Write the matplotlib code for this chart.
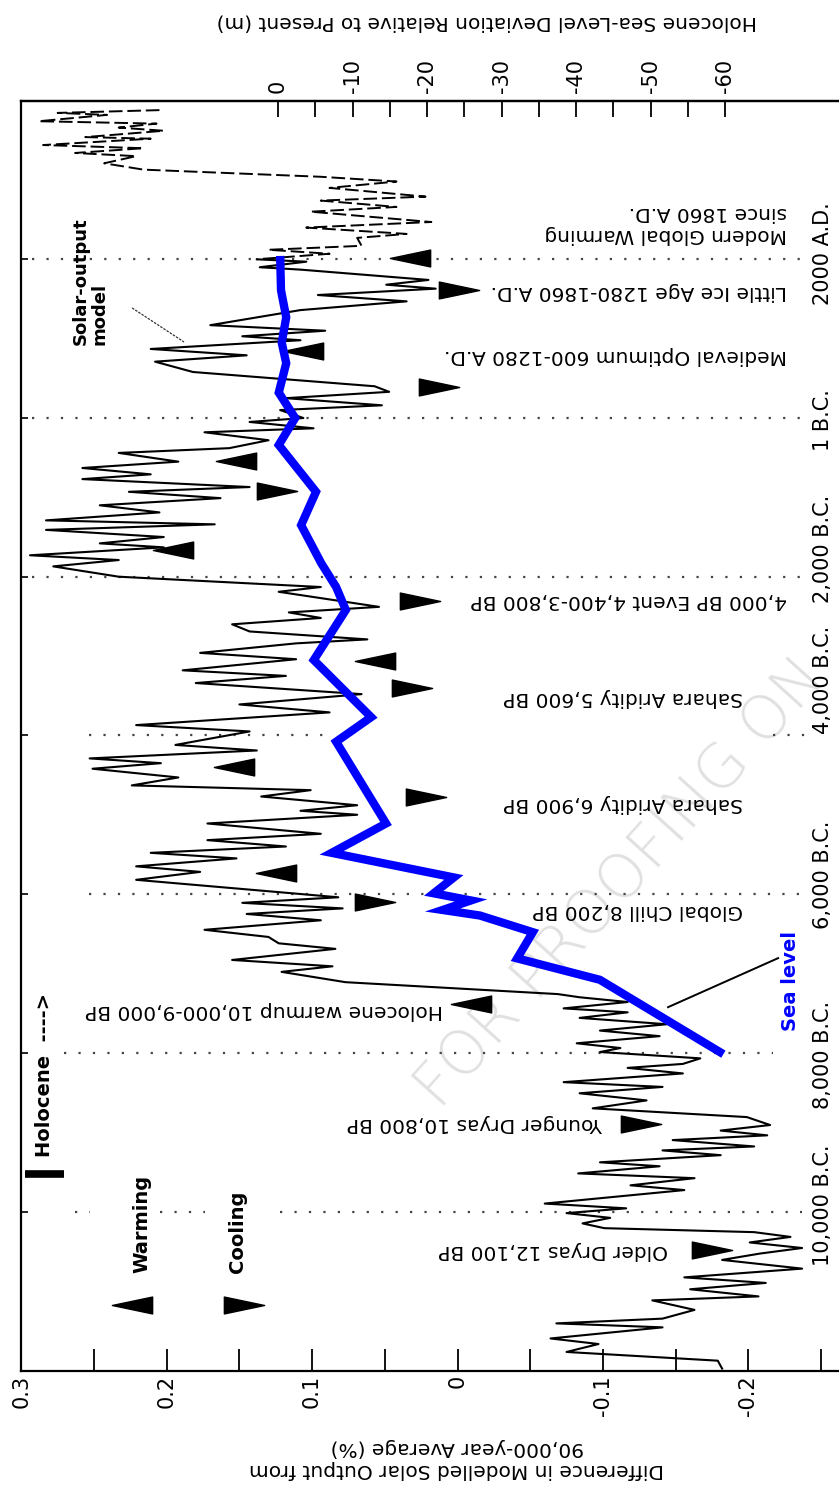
import matplotlib
matplotlib.use("Agg")
import matplotlib.pyplot as plt
from matplotlib.path import Path

plt.rcParams['font.family'] = 'DejaVu Sans'
plt.rcParams['axes.unicode_minus'] = False

# --- solar-output model, projected part (dashed) : year (AD +, BC -), % difference
proj_years = [3880, 3845, 3820, 3740, 3710, 3660, 3620, 3540, 3520, 3440,
              3400, 3340, 3300, 3210, 3130, 3040, 2980, 2900, 2790, 2740,
              2660, 2600, 2470, 2400, 2320, 2270, 2170, 2120, 2070, 2000]
proj_solar = [0.205, 0.275, 0.241, 0.288, 0.207, 0.233, 0.202, 0.256, 0.211, 0.285,
              0.216, 0.263, 0.221, 0.243, 0.216, 0.094, 0.042, 0.088, 0.022, 0.094,
              0.042, 0.101, 0.018, 0.104, 0.035, 0.069, 0.066, 0.130, 0.088, 0.138]

# --- solar-output model, past part
solar_years = [1970, 1900, 1870, 1740, 1680, 1630, 1550, 1470, 1360, 1170,
               1100, 1030, 980, 870, 790, 710, 580, 400, 330, 250,
               160, 100, 0, -50, -130, -180, -280, -380, -440, -550,
               -630, -710, -770, -870, -930, -1010, -1100, -1190, -1290, -1340,
               -1410, -1500, -1580, -1630, -1730, -1790, -1870, -2000, -2130, -2190,
               -2380, -2450, -2520, -2600, -2690, -2790, -2840, -2960, -3040, -3180,
               -3250, -3340, -3480, -3610, -3710, -3870, -3950, -4120, -4190, -4290,
               -4350, -4420, -4530, -4630, -4690, -4770, -4880, -4950, -5000, -5110,
               -5240, -5320, -5400, -5480, -5550, -5650, -5720, -5820, -6040, -6110,
               -6180, -6250, -6330, -6450, -6540, -6620, -6690, -6830, -6910, -6980,
               -7110, -7260, -7300, -7360, -7440, -7490, -7560, -7640, -7720, -7790,
               -7880, -7940, -7990, -8070, -8140, -8190, -8260, -8370, -8430, -8510,
               -8600, -8700, -8810, -8910, -8980, -9040, -9100, -9180, -9230, -9290,
               -9380, -9430, -9520, -9580, -9670, -9730, -9900, -9960, -10020, -10080,
               -10150, -10210, -10260, -10320, -10390, -10460, -10530, -10610, -10720, -10830,
               -10900, -10980, -11070, -11120, -11240, -11350, -11410, -11460, -11600, -11670,
               -11770, -11880, -11980]
solar_vals = [0.104, 0.136, 0.108, 0.020, 0.049, 0.015, 0.096, 0.035, 0.108, 0.170,
              0.091, 0.148, 0.108, 0.211, 0.145, 0.208, 0.182, 0.057, 0.047, 0.118,
              0.052, 0.122, 0.106, 0.143, 0.099, 0.174, 0.130, 0.157, 0.233, 0.192,
              0.258, 0.211, 0.258, 0.143, 0.226, 0.163, 0.246, 0.205, 0.283, 0.167,
              0.283, 0.202, 0.246, 0.202, 0.294, 0.233, 0.278, 0.233, 0.094, 0.123,
              0.054, 0.116, 0.094, 0.155, 0.143, 0.062, 0.111, 0.177, 0.111, 0.189,
              0.118, 0.180, 0.066, 0.150, 0.088, 0.221, 0.143, 0.194, 0.138, 0.253,
              0.204, 0.251, 0.192, 0.224, 0.101, 0.135, 0.069, 0.108, 0.069, 0.172,
              0.094, 0.172, 0.118, 0.211, 0.152, 0.221, 0.177, 0.221, 0.082, 0.148,
              0.079, 0.145, 0.094, 0.174, 0.130, 0.123, 0.084, 0.155, 0.086, 0.121,
              0.077, -0.069, -0.084, -0.117, -0.073, -0.117, -0.084, -0.144, -0.098, -0.139,
              -0.082, -0.112, -0.098, -0.167, -0.155, -0.117, -0.155, -0.073, -0.141, -0.084,
              -0.130, -0.093, -0.199, -0.215, -0.181, -0.213, -0.148, -0.204, -0.141, -0.181,
              -0.098, -0.139, -0.083, -0.163, -0.119, -0.156, -0.060, -0.116, -0.075, -0.105,
              -0.086, -0.101, -0.204, -0.229, -0.201, -0.237, -0.208, -0.182, -0.237, -0.156,
              -0.212, -0.160, -0.207, -0.134, -0.163, -0.141, -0.068, -0.141, -0.064, -0.097,
              -0.075, -0.179, -0.182]

# --- Holocene sea level (m relative to present)
sea_years = [1990, 1610, 1270, 950, 690, 320, 0, -340, -930, -1350,
             -1830, -2130, -2420, -3050, -3770, -4080, -5110, -5480, -5790, -5990,
             -6080, -6200, -6270, -6480, -6810, -7080, -7990]
sea_level = [-0.3, -0.4, -1.1, -0.5, -1.1, -0.1, -2.3, -0.1, -5.1, -3.1,
             -5.8, -7.8, -9.1, -4.8, -12.5, -7.8, -14.5, -7.2, -23.6, -20.9,
             -25.9, -22.1, -27.1, -34.2, -32.1, -43.2, -59.3]

# --- warming / cooling event arrows
warm_years = [2020, 845, -542, -1664, -3063, -4400, -5736, -7387]
warm_solar = [0.033, 0.106, 0.152, 0.196, 0.057, 0.154, 0.125, -0.009]
cool_years = [1614, 391, -920, -2307, -3404, -4778, -6101, -8900, -10488]
cool_solar = [-0.001, 0.013, 0.124, 0.026, 0.031, 0.022, 0.057, -0.126, -0.175]

event_labels = ["Modern Global Warming\nsince 1860 A.D.", "Little Ice Age 1280-1860 A.D.",
                "Medieval Optimum 600-1280 A.D.", "4,000 BP Event 4,400-3,800 BP",
                "Sahara Aridity 5,600 BP", "Sahara Aridity 6,900 BP", "Global Chill 8,200 BP",
                "Holocene warmup 10,000-9,000 BP", "Younger Dryas 10,800 BP", "Older Dryas 12,100 BP"]
event_years = [2446, 1588, 794, -2294, -3517, -4853, -6202, -7463, -8887, -10488]
event_x = [-0.2267, -0.2267, -0.2267, -0.2267, -0.1964, -0.1964, -0.1964, 0.0099, -0.1001, -0.1448]

marker_years = [2000, 0, -2000, -4000, -6000, -8000, -10000]
time_labels = ["2000 A.D.", "1 B.C.", "2,000 B.C.", "4,000 B.C.", "6,000 B.C.", "8,000 B.C.", "10,000 B.C."]
time_label_years = [2070, -25, -1650, -3300, -5760, -8030, -9920]

solar_ticks = [0.3, 0.2, 0.1, 0.0, -0.1, -0.2]
solar_ticklabels = ["0.3", "0.2", "0.1", "0", "-0.1", "-0.2"]
sea_ticks = [0, -10, -20, -30, -40, -50, -60]

# ---------------------------------------------------------------
fig = plt.figure(figsize=(8.39, 14.94), dpi=100)
ax = fig.add_axes([21.3 / 839, 1 - 1371 / 1494, 1 - 21.3 / 839, 1270 / 1494])
ax.set_xlim(0.3, 0.3 - (839 - 21.3) / 1454)
ax.set_ylim(-12010, 3995)

for s in ['left', 'top', 'bottom']:
    ax.spines[s].set_linewidth(1.6)
ax.spines['right'].set_visible(False)

ax.set_xticks(solar_ticks)
ax.set_xticklabels(solar_ticklabels)
ax.set_xticks([0.25, 0.15, 0.05, -0.05, -0.15, -0.25], minor=True)
ax.tick_params(axis='x', which='both', direction='in', length=16, width=1.3,
               labelsize=15, labelrotation=90, pad=3, top=False)
ax.set_yticks(marker_years)
ax.set_yticklabels([])
ax.tick_params(axis='y', direction='in', length=5, width=1.2, right=False)

# dotted time markers (segments where visible)
dot_segments = {2000: [(0.2926, -0.2377)], 0: [(0.2926, -0.2377)], -2000: [(0.2926, -0.2377)],
                -4000: [(0.2534, 0.0911), (-0.2170, -0.2425)], -6000: [(0.2534, -0.2411)],
                -8000: [(0.2706, -0.2170)],
                -10000: [(0.2630, 0.2527), (0.2046, 0.1736), (0.1220, -0.2370)]}
for yr, segs in dot_segments.items():
    for a, b in segs:
        ax.plot([a, b], [yr, yr], color='#444444', lw=1.6, linestyle=(0, (1.0, 5.5)), zorder=1)

# watermark (only this much of it lies inside the picture)
ax.text(0.0125, -8723, "FOR PROOFING ON", rotation=48, rotation_mode='anchor',
        ha='left', va='baseline', fontsize=44, fontweight='light', color='#e0e0e0', zorder=0)

# solar curve
ax.plot(proj_solar, proj_years, color='black', lw=1.4, linestyle=(0, (7, 2.5)), zorder=3)
ax.plot([proj_solar[-1]] + solar_vals, [proj_years[-1]] + solar_years, color='black', lw=1.5, zorder=3)

# arrows
tri_left = Path([(-1, 0), (1, 0.42), (1, -0.42), (-1, 0)],
                [Path.MOVETO, Path.LINETO, Path.LINETO, Path.CLOSEPOLY])
tri_right = Path([(1, 0), (-1, 0.42), (-1, -0.42), (1, 0)],
                 [Path.MOVETO, Path.LINETO, Path.LINETO, Path.CLOSEPOLY])
ax.plot(warm_solar, warm_years, linestyle='none', marker=tri_left, markersize=29, color='black', zorder=5)
ax.plot(cool_solar, cool_years, linestyle='none', marker=tri_right, markersize=29, color='black', zorder=5)

# legend arrows + text
ax.plot([0.2238], [-11182], marker=tri_left, markersize=29, color='black', zorder=5)
ax.plot([0.1468], [-11182], marker=tri_right, markersize=29, color='black', zorder=5)
ax.text(0.2169, -10778, "Warming", rotation=90, rotation_mode='anchor', ha='left', va='center',
        fontsize=14, fontweight='bold')
ax.text(0.1516, -10778, "Cooling", rotation=90, rotation_mode='anchor', ha='left', va='center',
        fontsize=14, fontweight='bold')

# Holocene marker
ax.plot([0.2974, 0.2706], [-9530, -9530], color='black', lw=5.5, solid_capstyle='butt')
ax.text(0.2843, -9316, "Holocene  ---->", rotation=90, rotation_mode='anchor', ha='left',
        va='center', fontsize=14, fontweight='bold')

# event labels
for lab, yr, xv in zip(event_labels, event_years, event_x):
    ax.text(xv, yr, lab, rotation=180, rotation_mode='anchor', ha='left', va='center',
            fontsize=14.5, zorder=6)

# time labels
for lab, yr in zip(time_labels, time_label_years):
    ax.text(-0.2514, yr, lab, rotation=90, ha='center', va='center', fontsize=15)

# solar-output model label
ax.text(0.2527, 920, "Solar-output\nmodel", rotation=90, rotation_mode='anchor', ha='left',
        va='center', fontsize=13, fontweight='bold', multialignment='left', linespacing=1.1)
ax.plot([0.2238, 0.1881], [1387, 958], color='#333333', lw=0.9, linestyle=(0, (2, 1)))

# sea level label
ax.text(-0.2287, -7097, "Sea level", rotation=90, ha='center', va='center', fontsize=14,
        fontweight='bold', color='#0000ff')
ax.plot([-0.2205, -0.1448], [-6807, -7425], color='black', lw=1.4)

# sea level curve on its own (top) axis
tw = ax.twiny()
tw.set_xlim(34.46, -75.30)
tw.set_ylim(-12010, 3995)
for s in ['left', 'right', 'bottom']:
    tw.spines[s].set_visible(False)
tw.spines['top'].set_linewidth(1.6)
tw.plot(sea_level, sea_years, color='#0000ff', lw=6, solid_joinstyle='miter', zorder=4)
tw.set_xticks(sea_ticks)
tw.set_xticklabels([str(t) for t in sea_ticks])
tw.set_xticks([-5, -15, -25, -35, -45, -55], minor=True)
tw.tick_params(axis='x', which='both', direction='in', length=11.5, width=1.3, labelsize=15,
               labelrotation=90, pad=6, top=True, bottom=False, labeltop=True, labelbottom=False)

# axis titles
fig.text(487 / 839, 1 - 22 / 1494, "Holocene Sea-Level Deviation Relative to Present (m)",
         rotation=180, ha='center', va='center', fontsize=14.5)
fig.text(457 / 839, 1 - 1458 / 1494, "Difference in Modelled Solar Output from\n90,000-year Average (%)",
         rotation=180, ha='center', va='center', fontsize=14.5, multialignment='center')

fig.savefig("out.png", dpi=100)
